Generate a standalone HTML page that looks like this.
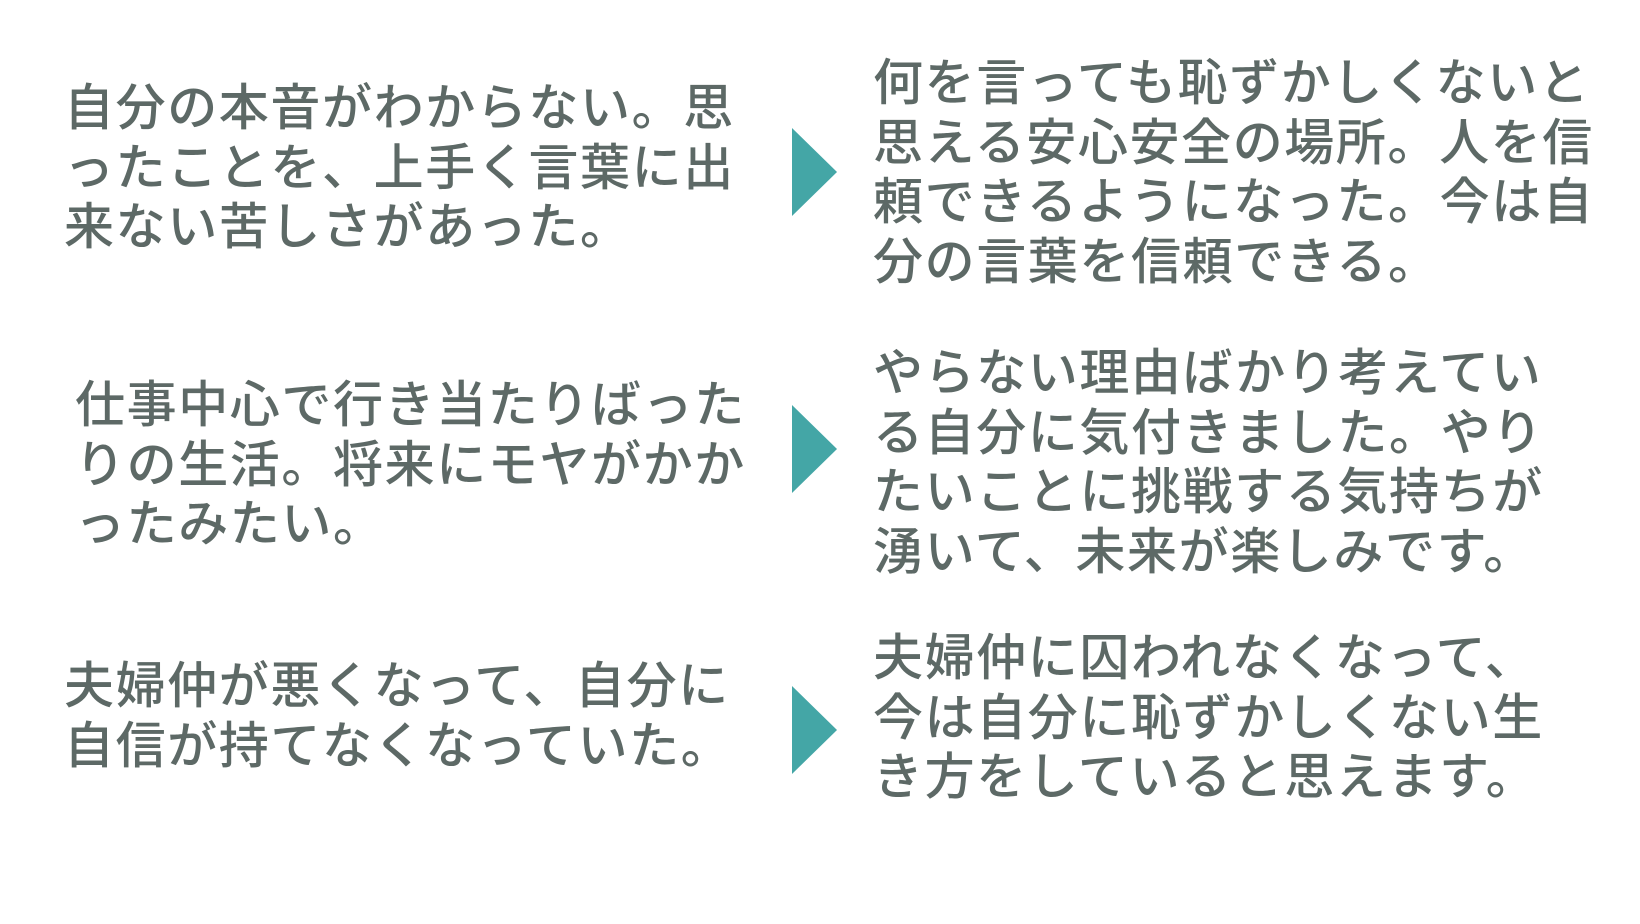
<!DOCTYPE html>
<html><head><meta charset="utf-8"><style>
body{margin:0;width:1640px;height:924px;background:#fff;position:relative;overflow:hidden}
.t{position:absolute;font-family:"Liberation Sans","Noto Sans CJK JP",sans-serif;font-size:50px;line-height:59.5px;color:#5d6966;letter-spacing:1.6px;white-space:pre;font-weight:500}
.a{position:absolute;width:0;height:0;border-top:44px solid transparent;border-bottom:44px solid transparent;border-left:45px solid #44a6a6;left:792px}
</style></head><body>
<div class="t" style="left:64px;top:79px">自分の本音がわからない。思
ったことを、上手く言葉に出
来ない苦しさがあった。</div>
<div class="t" style="left:873px;top:54px">何を言っても恥ずかしくないと
思える安心安全の場所。人を信
頼できるようになった。今は自
分の言葉を信頼できる。</div>
<div class="a" style="top:128px"></div>
<div class="t" style="left:75px;top:376px">仕事中心で行き当たりばった
りの生活。将来にモヤがかか
ったみたい。</div>
<div class="t" style="left:873px;top:344px">やらない理由ばかり考えてい
る自分に気付きました。やり
たいことに挑戦する気持ちが
湧いて、未来が楽しみです。</div>
<div class="a" style="top:405px"></div>
<div class="t" style="left:64px;top:657px">夫婦仲が悪くなって、自分に
自信が持てなくなっていた。</div>
<div class="t" style="left:873px;top:629px">夫婦仲に囚われなくなって、
今は自分に恥ずかしくない生
き方をしていると思えます。</div>
<div class="a" style="top:686px"></div>
</body></html>
